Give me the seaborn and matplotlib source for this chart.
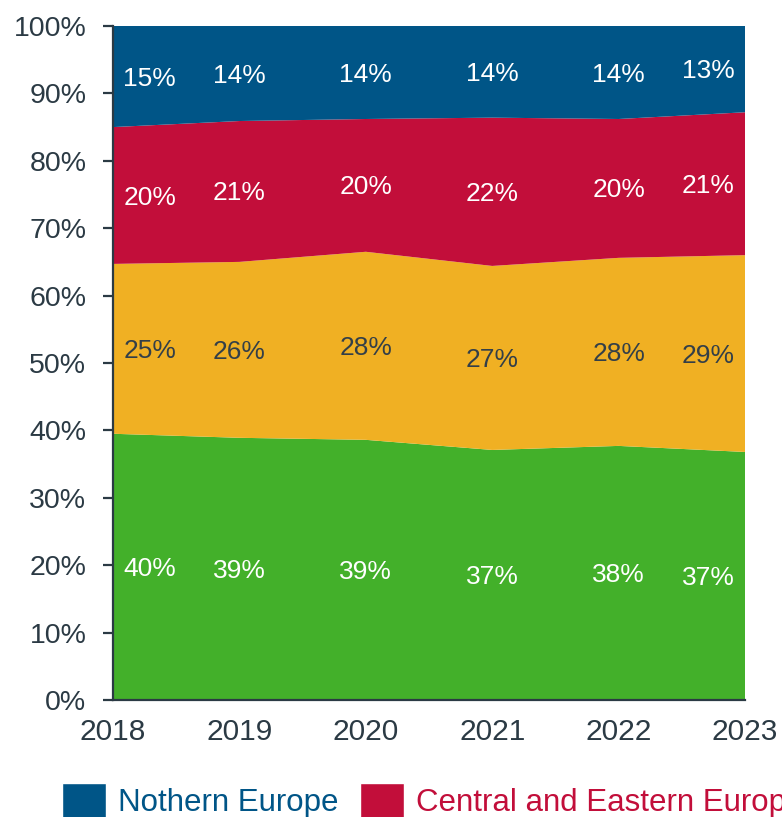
import numpy as np
import pandas as pd
import seaborn as sns
import matplotlib.pyplot as plt
from matplotlib.patches import Patch

# data (shares in %)
years = [2018, 2019, 2020, 2021, 2022, 2023]
southern = [39.5, 38.9, 38.6, 37.1, 37.7, 36.8]
western = [25.2, 26.1, 27.9, 27.3, 27.9, 29.2]
central_eastern = [20.3, 20.9, 19.7, 22.0, 20.6, 21.2]
northern = [15.0, 14.1, 13.8, 13.6, 13.8, 12.8]

labels_southern = ['40%', '39%', '39%', '37%', '38%', '37%']
labels_western = ['25%', '26%', '28%', '27%', '28%', '29%']
labels_central = ['20%', '21%', '20%', '22%', '20%', '21%']
labels_northern = ['15%', '14%', '14%', '14%', '14%', '13%']

series_names = ['Southern Europe', 'Western Europe', 'Central and Eastern Europe', 'Nothern Europe']
colors = ['#43B02A', '#F0B023', '#C20E3A', '#005587']
text_colors = ['white', '#333F48', 'white', 'white']
axis_color = '#2B3A44'

df = pd.DataFrame({
    'year': years,
    series_names[0]: southern,
    series_names[1]: western,
    series_names[2]: central_eastern,
    series_names[3]: northern,
})

sns.set_theme(style='white')
plt.rcParams['font.family'] = ['Liberation Sans', 'DejaVu Sans']

fig = plt.figure(figsize=(7.82, 8.17), dpi=100)
ax = fig.add_axes([0.1445, 0.1432, 0.8082, 0.825])

ax.stackplot(df['year'], [df[n] for n in series_names], colors=colors,
             edgecolor='none', linewidth=0)

# value labels in the middle of each band
all_labels = [labels_southern, labels_western, labels_central, labels_northern]
cum = np.zeros(len(years))
xs = np.array(years, dtype=float)
xs[0] += 0.29
xs[-1] -= 0.29
for name, labs, tc in zip(series_names, all_labels, text_colors):
    vals = df[name].to_numpy()
    mids = cum + vals / 2
    for x, y, t in zip(xs, mids, labs):
        ax.text(x, y - 0.3, t, ha='center', va='center', color=tc, fontsize=19)
    cum = cum + vals

ax.set_xlim(2018, 2023)
ax.set_ylim(0, 100)
ax.set_yticks(np.arange(0, 101, 10))
ax.set_yticklabels([f'{v}%' for v in range(0, 101, 10)])
ax.set_xticks(years)
ax.set_xticklabels([str(y) for y in years])

for side in ['top', 'right']:
    ax.spines[side].set_visible(False)
for side in ['left', 'bottom']:
    ax.spines[side].set_color(axis_color)
    ax.spines[side].set_linewidth(1.6)

ax.tick_params(axis='y', which='both', left=True, length=7.2, width=1.6,
               color=axis_color, labelcolor=axis_color, labelsize=20.5, pad=12)
ax.tick_params(axis='x', bottom=False, labelcolor=axis_color, labelsize=21.5, pad=7)

# legend (runs past the right edge like the original)
handles = [Patch(facecolor=colors[3]), Patch(facecolor=colors[2])]
leg = fig.legend(handles, [series_names[3], series_names[2]],
                 loc='center left', bbox_to_anchor=(0.0793, 0.02), ncol=2, frameon=False,
                 fontsize=22.5, handlelength=1.41, handleheight=1.35, handletextpad=0.38,
                 columnspacing=0.7, borderpad=0, borderaxespad=0)
for txt, c in zip(leg.get_texts(), [colors[3], colors[2]]):
    txt.set_color(c)

fig.savefig('out.png', dpi=100)
